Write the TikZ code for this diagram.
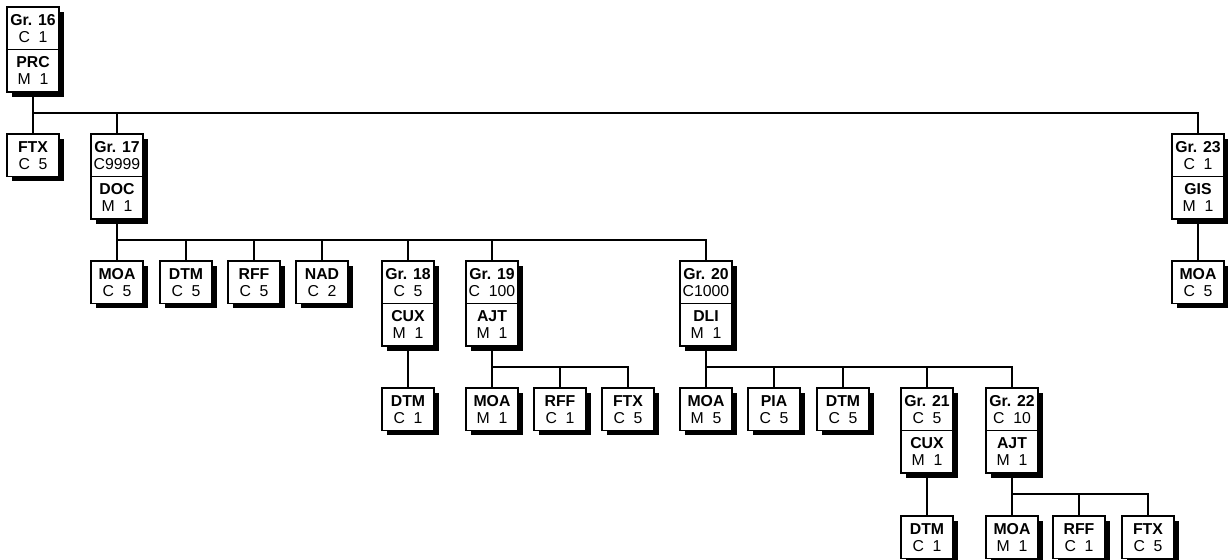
\documentclass[tikz,border=0pt]{standalone}
\usepackage{fontspec}
\setmainfont{Liberation Sans}
\usetikzlibrary{positioning,shadows}

\tikzset{
  seg/.style={draw, fill=white, line width=0.8pt, outer sep=0pt,
    minimum width=26pt, minimum height=21.25pt, inner sep=0pt,
    align=center, font=\fontsize{7.9}{8.6}\selectfont,
    drop shadow={shadow xshift=2.5pt, shadow yshift=-2.5pt, fill=black, opacity=1}},
  link/.style={line width=0.6pt},
}

\begin{document}
\begin{tikzpicture}[x=0.5pt, y=-0.5pt]
    \useasboundingbox (0,0) rectangle (1228,560);

    % Level 0: group 16
    \node[seg, anchor=north] (g16) at (33,7) {\textbf{Gr. 16}\\C\ \ 1};
    \node[seg, below=0pt of g16] (prc) {\textbf{PRC}\\M\ \ 1};

    % Level 1
    \node[seg, anchor=north] (ftx16) at (33,134) {\textbf{FTX}\\C\ \ 5};
    \node[seg, anchor=north] (g17) at (117,134) {\textbf{Gr. 17}\\C9999};
    \node[seg, below=0pt of g17] (doc) {\textbf{DOC}\\M\ \ 1};
    \node[seg, anchor=north] (g23) at (1198,134) {\textbf{Gr. 23}\\C\ \ 1};
    \node[seg, below=0pt of g23] (gis) {\textbf{GIS}\\M\ \ 1};

    % Level 2
    \node[seg, anchor=north] (moa17) at (117,261) {\textbf{MOA}\\C\ \ 5};
    \node[seg, anchor=north] (dtm17) at (186,261) {\textbf{DTM}\\C\ \ 5};
    \node[seg, anchor=north] (rff17) at (254,261) {\textbf{RFF}\\C\ \ 5};
    \node[seg, anchor=north] (nad17) at (322,261) {\textbf{NAD}\\C\ \ 2};
    \node[seg, anchor=north] (g18) at (408,261) {\textbf{Gr. 18}\\C\ \ 5};
    \node[seg, below=0pt of g18] (cux18) {\textbf{CUX}\\M\ \ 1};
    \node[seg, anchor=north] (g19) at (492,261) {\textbf{Gr. 19}\\C\ \ 100};
    \node[seg, below=0pt of g19] (ajt19) {\textbf{AJT}\\M\ \ 1};
    \node[seg, anchor=north] (g20) at (706,261) {\textbf{Gr. 20}\\C1000};
    \node[seg, below=0pt of g20] (dli) {\textbf{DLI}\\M\ \ 1};
    \node[seg, anchor=north] (moa23) at (1198,261) {\textbf{MOA}\\C\ \ 5};

    % Level 3
    \node[seg, anchor=north] (dtm18) at (408,388) {\textbf{DTM}\\C\ \ 1};
    \node[seg, anchor=north] (moa19) at (492,388) {\textbf{MOA}\\M\ \ 1};
    \node[seg, anchor=north] (rff19) at (560,388) {\textbf{RFF}\\C\ \ 1};
    \node[seg, anchor=north] (ftx19) at (628,388) {\textbf{FTX}\\C\ \ 5};
    \node[seg, anchor=north] (moa20) at (706,388) {\textbf{MOA}\\M\ \ 5};
    \node[seg, anchor=north] (pia20) at (774,388) {\textbf{PIA}\\C\ \ 5};
    \node[seg, anchor=north] (dtm20) at (843,388) {\textbf{DTM}\\C\ \ 5};
    \node[seg, anchor=north] (g21) at (927,388) {\textbf{Gr. 21}\\C\ \ 5};
    \node[seg, below=0pt of g21] (cux21) {\textbf{CUX}\\M\ \ 1};
    \node[seg, anchor=north] (g22) at (1012,388) {\textbf{Gr. 22}\\C\ \ 10};
    \node[seg, below=0pt of g22] (ajt22) {\textbf{AJT}\\M\ \ 1};

    % Level 4
    \node[seg, anchor=north] (dtm21) at (927,516) {\textbf{DTM}\\C\ \ 1};
    \node[seg, anchor=north] (moa22) at (1012,516) {\textbf{MOA}\\M\ \ 1};
    \node[seg, anchor=north] (rff22) at (1079,516) {\textbf{RFF}\\C\ \ 1};
    \node[seg, anchor=north] (ftx22) at (1148,516) {\textbf{FTX}\\C\ \ 5};

    % Connectors from PRC
    \draw[link] (prc.south) -- (ftx16.north);
    \draw[link] (prc.south) -- ++(0,21) -| (g17.north);
    \draw[link] (prc.south) -- ++(0,21) -| (g23.north);

    % Connectors from DOC
    \draw[link] (doc.south) -- (moa17.north);
    \draw[link] (doc.south) -- ++(0,21) -| (dtm17.north);
    \draw[link] (doc.south) -- ++(0,21) -| (rff17.north);
    \draw[link] (doc.south) -- ++(0,21) -| (nad17.north);
    \draw[link] (doc.south) -- ++(0,21) -| (g18.north);
    \draw[link] (doc.south) -- ++(0,21) -| (g19.north);
    \draw[link] (doc.south) -- ++(0,21) -| (g20.north);

    % Connectors from GIS and CUX
    \draw[link] (gis.south) -- (moa23.north);
    \draw[link] (cux18.south) -- (dtm18.north);
    \draw[link] (cux21.south) -- (dtm21.north);

    % Connectors from AJT (Gr. 19)
    \draw[link] (ajt19.south) -- (moa19.north);
    \draw[link] (ajt19.south) -- ++(0,21) -| (rff19.north);
    \draw[link] (ajt19.south) -- ++(0,21) -| (ftx19.north);

    % Connectors from DLI
    \draw[link] (dli.south) -- (moa20.north);
    \draw[link] (dli.south) -- ++(0,21) -| (pia20.north);
    \draw[link] (dli.south) -- ++(0,21) -| (dtm20.north);
    \draw[link] (dli.south) -- ++(0,21) -| (g21.north);
    \draw[link] (dli.south) -- ++(0,21) -| (g22.north);

    % Connectors from AJT (Gr. 22)
    \draw[link] (ajt22.south) -- (moa22.north);
    \draw[link] (ajt22.south) -- ++(0,21) -| (rff22.north);
    \draw[link] (ajt22.south) -- ++(0,21) -| (ftx22.north);
\end{tikzpicture}
\end{document}
